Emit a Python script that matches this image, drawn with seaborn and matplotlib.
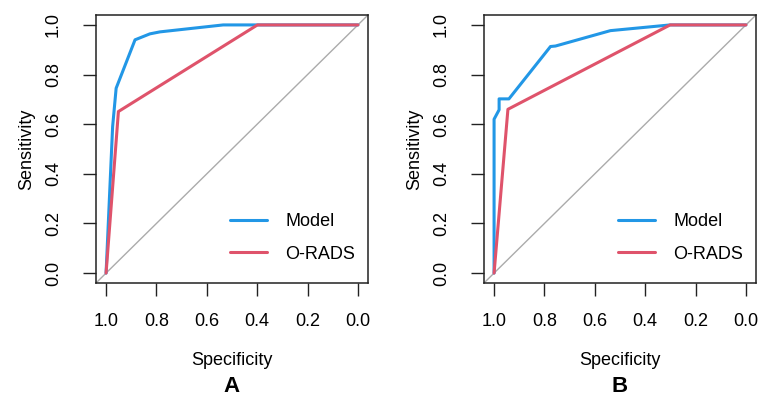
import numpy as np
import pandas as pd
import seaborn as sns
import matplotlib.pyplot as plt

# ROC points (specificity, sensitivity)
spec_model_a = [1.0, 0.974, 0.960, 0.885, 0.826, 0.786, 0.535, 0.0]
sens_model_a = [0.0, 0.59, 0.745, 0.94, 0.964, 0.972, 1.0, 1.0]
spec_orads_a = [1.0, 0.951, 0.399, 0.0]
sens_orads_a = [0.0, 0.651, 1.0, 1.0]

spec_model_b = [1.0, 1.0, 0.98, 0.98, 0.941, 0.776, 0.756, 0.538, 0.301, 0.0]
sens_model_b = [0.0, 0.62, 0.658, 0.702, 0.702, 0.913, 0.915, 0.977, 1.0, 1.0]
spec_orads_b = [1.0, 0.945, 0.301, 0.0]
sens_orads_b = [0.0, 0.66, 1.0, 1.0]

ticks = [1.0, 0.8, 0.6, 0.4, 0.2, 0.0]
tick_labels = ["1.0", "0.8", "0.6", "0.4", "0.2", "0.0"]
panels = ["A", "B"]

colors = {"Model": "#2297E6", "O-RADS": "#DF536B"}


def make_df(spec_m, sens_m, spec_o, sens_o):
    d1 = pd.DataFrame(dict(Specificity=spec_m, Sensitivity=sens_m, curve="Model"))
    d2 = pd.DataFrame(dict(Specificity=spec_o, Sensitivity=sens_o, curve="O-RADS"))
    return pd.concat([d1, d2], ignore_index=True)


data = [make_df(spec_model_a, sens_model_a, spec_orads_a, sens_orads_a),
        make_df(spec_model_b, sens_model_b, spec_orads_b, sens_orads_b)]

sns.set_style("white")
plt.rcParams["font.family"] = ["Liberation Sans", "DejaVu Sans"]
plt.rcParams["text.color"] = "black"
plt.rcParams["axes.labelcolor"] = "black"

fig = plt.figure(figsize=(7.61, 3.98), dpi=100)
lefts = [96 / 761, 484 / 761]
w = 272 / 761
h = 268 / 398
b = 1 - 283 / 398

for i, df in enumerate(data):
    ax = fig.add_axes([lefts[i], b, w, h])
    ax.axline((1, 0), (0, 1), color="#ABABAB", lw=1, zorder=1)
    sns.lineplot(data=df, x="Specificity", y="Sensitivity", hue="curve",
                 palette=colors, sort=False, estimator=None, lw=2.2, ax=ax,
                 zorder=3)
    ax.set_xlim(1.04, -0.04)
    ax.set_ylim(-0.04, 1.04)
    ax.set_xticks(ticks)
    ax.set_xticklabels(tick_labels)
    ax.set_yticks(ticks)
    ax.set_yticklabels(tick_labels)
    ax.tick_params(axis="both", direction="out", length=9.5, width=1,
                   color="#222222", labelcolor="black", labelsize=13,
                   bottom=True, left=True)
    ax.tick_params(axis="x", pad=12)
    ax.tick_params(axis="y", pad=15, labelrotation=90)
    for t in ax.get_yticklabels():
        t.set_va("center")
    for s in ax.spines.values():
        s.set_color("#222222")
        s.set_linewidth(1.1)
    ax.set_xlabel("Specificity", fontsize=13, labelpad=16)
    ax.set_ylabel("Sensitivity", fontsize=13, labelpad=7)
    leg = ax.legend(frameon=False, loc="lower right", fontsize=13,
                    handlelength=2.05, handletextpad=1.0, labelspacing=0.85,
                    borderpad=0.2, bbox_to_anchor=(1.0, 0.029))
    for ln in leg.get_lines():
        ln.set_linewidth(2.2)
    fig.text(lefts[i] + w / 2, 1 - 386 / 398, panels[i], fontsize=16,
             fontweight="bold", ha="center", va="center")

fig.savefig("out.png", dpi=100)
